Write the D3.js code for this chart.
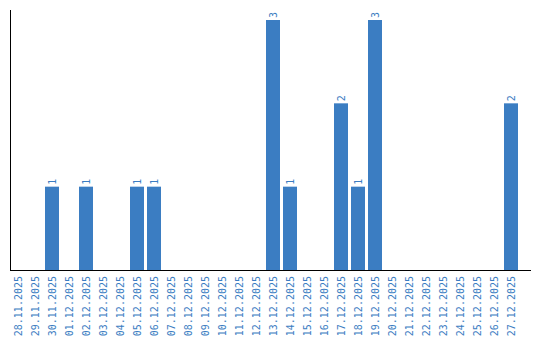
<!DOCTYPE html>
<html>
<head>
<meta charset="utf-8">
<script src="https://cdn.jsdelivr.net/npm/d3@7"></script>
<style>
  body { margin: 0; background: #fff; }
</style>
</head>
<body>
<div class="container"></div>
<script>
const dates = [
  '28.11.2025', '29.11.2025', '30.11.2025', '01.12.2025', '02.12.2025',
  '03.12.2025', '04.12.2025', '05.12.2025', '06.12.2025', '07.12.2025',
  '08.12.2025', '09.12.2025', '10.12.2025', '11.12.2025', '12.12.2025',
  '13.12.2025', '14.12.2025', '15.12.2025', '16.12.2025', '17.12.2025',
  '18.12.2025', '19.12.2025', '20.12.2025', '21.12.2025', '22.12.2025',
  '23.12.2025', '24.12.2025', '25.12.2025', '26.12.2025', '27.12.2025'
];
const counts = [
  0, 0, 1, 0, 1,
  0, 0, 1, 1, 0,
  0, 0, 0, 0, 0,
  3, 1, 0, 0, 2,
  1, 3, 0, 0, 0,
  0, 0, 0, 0, 2
];

let width = 540;
let height = 340;
let left = 11;
let bottom = 270;
let blue = '#3b7dc2';

let svg = d3
  .select('.container')
  .append('svg')
  .attr('width', width)
  .attr('height', height);

// 17px step, 14px bars
let x = d3
  .scaleBand()
  .domain(dates)
  .range([left, left + 17 * dates.length - 3])
  .paddingInner(3 / 17)
  .paddingOuter(0);

let y = d3.scaleLinear().domain([0, 3]).range([bottom, 20]);

let data = dates.map((d, i) => ({ date: d, value: counts[i] }));

// bars
svg
  .append('g')
  .selectAll('rect')
  .data(data.filter((d) => d.value > 0))
  .enter()
  .append('rect')
  .attr('x', (d) => x(d.date))
  .attr('y', (d) => y(d.value))
  .attr('width', x.bandwidth())
  .attr('height', (d) => bottom - y(d.value))
  .attr('fill', blue);

// value labels
svg
  .append('g')
  .selectAll('text')
  .data(data.filter((d) => d.value > 0))
  .enter()
  .append('text')
  .attr(
    'transform',
    (d) => 'translate(' + (x(d.date) + 11) + ',' + (y(d.value) - 2) + ') rotate(-90)'
  )
  .attr('text-anchor', 'start')
  .style('font-family', 'DejaVu Sans Mono, monospace')
  .style('font-size', '10px')
  .style('fill', blue)
  .text((d) => d.value);

// axes lines
svg
  .append('line')
  .attr('x1', 10.5)
  .attr('x2', 10.5)
  .attr('y1', 10)
  .attr('y2', bottom)
  .attr('stroke', 'black')
  .attr('stroke-width', 1);

svg
  .append('line')
  .attr('x1', 10)
  .attr('x2', 531)
  .attr('y1', bottom + 0.5)
  .attr('y2', bottom + 0.5)
  .attr('stroke', 'black')
  .attr('stroke-width', 1);

// x tick labels
svg
  .append('g')
  .selectAll('text')
  .data(dates)
  .enter()
  .append('text')
  .attr(
    'transform',
    (d) => 'translate(' + (x(d) + 11) + ',' + (bottom + 6) + ') rotate(-90)'
  )
  .attr('text-anchor', 'end')
  .style('font-family', 'DejaVu Sans Mono, monospace')
  .style('font-size', '10px')
  .style('fill', blue)
  .text((d) => d);
</script>
</body>
</html>
